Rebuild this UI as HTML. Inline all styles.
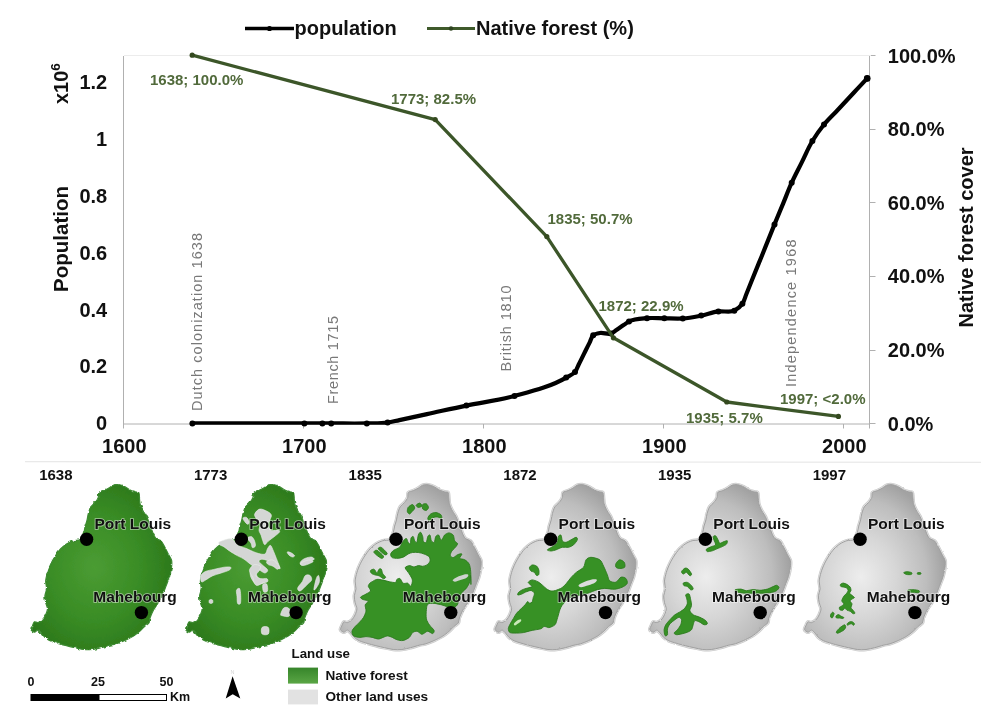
<!DOCTYPE html>
<html><head><meta charset="utf-8"><title>Mauritius population and native forest</title>
<style>
html,body{margin:0;padding:0;background:#fff;}
body{width:1001px;height:722px;overflow:hidden;font-family:"Liberation Sans",sans-serif;}
svg{display:block}
text{font-family:"Liberation Sans",sans-serif;}
.b{font-weight:bold;fill:#111;}
.t20{font-size:20px;}
.dl{font-weight:bold;font-size:15px;fill:#516a3b;}
.an{font-size:14.5px;fill:#787878;}
.yl{font-weight:bold;font-size:15px;fill:#111;}
.city{font-weight:bold;font-size:15.5px;fill:#111;}
</style></head><body>
<svg width="1001" height="722" viewBox="0 0 1001 722">
<rect width="1001" height="722" fill="#fff"/>

<g stroke="#b0b0b0" stroke-width="1" fill="none">
<path d="M123.5 56V424H870"/>
<path d="M869.5 55.5V428.5"/>
<path d="M869.5 423.5H875.5"/>
<path d="M869.5 350.5H875.5"/>
<path d="M869.5 276.5H875.5"/>
<path d="M869.5 202.5H875.5"/>
<path d="M869.5 129.5H875.5"/>
<path d="M869.5 55.5H875.5"/>
<path d="M123.5 424V428.5"/>
<path d="M303.5 424V428.5"/>
<path d="M483.5 424V428.5"/>
<path d="M663.5 424V428.5"/>
<path d="M843.5 424V428.5"/>
</g>
<path d="M124 55.5H871" stroke="#ececec" stroke-width="1"/>
<path d="M25 461.6L981 462.4" stroke="#e9e9e9" stroke-width="1.2"/>
<text class="b t20" x="107.2" y="430.2" text-anchor="end">0</text>
<text class="b t20" x="107.2" y="373.4" text-anchor="end">0.2</text>
<text class="b t20" x="107.2" y="316.6" text-anchor="end">0.4</text>
<text class="b t20" x="107.2" y="259.8" text-anchor="end">0.6</text>
<text class="b t20" x="107.2" y="203.0" text-anchor="end">0.8</text>
<text class="b t20" x="107.2" y="146.2" text-anchor="end">1</text>
<text class="b t20" x="107.2" y="89.4" text-anchor="end">1.2</text>
<text class="b t20" x="887.8" y="430.6">0.0%</text>
<text class="b t20" x="887.8" y="357.0">20.0%</text>
<text class="b t20" x="887.8" y="283.4">40.0%</text>
<text class="b t20" x="887.8" y="209.8">60.0%</text>
<text class="b t20" x="887.8" y="136.2">80.0%</text>
<text class="b t20" x="887.8" y="62.6">100.0%</text>
<text class="b t20" x="124.3" y="453" text-anchor="middle">1600</text>
<text class="b t20" x="304.3" y="453" text-anchor="middle">1700</text>
<text class="b t20" x="484.3" y="453" text-anchor="middle">1800</text>
<text class="b t20" x="664.3" y="453" text-anchor="middle">1900</text>
<text class="b t20" x="844.3" y="453" text-anchor="middle">2000</text>
<text class="b t20" transform="translate(67.5,239) rotate(-90)" text-anchor="middle" style="font-size:20.5px">Population</text>
<text class="b t20" transform="translate(67.8,104) rotate(-90)">x10<tspan font-size="13.5" dy="-8">6</tspan></text>
<text class="b t20" transform="translate(973,237.5) rotate(-90)" text-anchor="middle">Native forest cover</text>
<path d="M245 28.5H294" stroke="#000" stroke-width="3.5"/><circle cx="269.5" cy="28.5" r="2.6" fill="#000"/>
<text class="b t20" x="294.5" y="35">population</text>
<path d="M427 28.5H475" stroke="#3f5a2b" stroke-width="3"/><circle cx="451" cy="28.5" r="2.2" fill="#2f4420"/>
<text class="b t20" x="476" y="35">Native forest (%)</text>
<text class="an" transform="translate(201.5,411.0) rotate(-90)" textLength="178.0" lengthAdjust="spacing">Dutch colonization 1638</text>
<text class="an" transform="translate(337.5,404.0) rotate(-90)" textLength="88.0" lengthAdjust="spacing">French 1715</text>
<text class="an" transform="translate(510.5,371.5) rotate(-90)" textLength="86.0" lengthAdjust="spacing">British 1810</text>
<text class="an" transform="translate(795.6,387.0) rotate(-90)" textLength="147.5" lengthAdjust="spacing">Independence 1968</text>
<clipPath id="pc"><rect x="100" y="40" width="800" height="384.8"/></clipPath>
<path d="M192.4 423.4 C229.7 423.4 267.1 423.4 304.4 423.4 C310.4 423.4 316.4 423.4 322.4 423.4 C325.3 423.4 328.3 423.4 331.2 423.4 C343.1 423.4 354.9 423.7 366.8 423.4 C373.7 423.2 380.8 423.6 387.6 422.6 C391.6 422.0 395.5 420.9 399.4 420.1 C408.6 418.1 417.8 416.1 427.0 414.1 C440.1 411.3 453.2 408.3 466.4 405.6 C482.4 402.3 498.8 400.3 514.5 396.0 C532.1 391.2 550.5 386.8 566.2 377.6 C569.2 375.8 572.8 374.6 575.0 372.0 C576.7 370.0 577.4 367.1 578.6 364.7 C580.5 361.0 582.3 357.3 584.1 353.6 C585.9 350.0 587.7 346.3 589.6 342.6 C590.8 340.2 591.3 336.9 593.2 335.3 C594.9 333.9 597.7 333.4 600.0 333.0 C603.6 332.4 607.7 334.8 611.0 333.6 C612.9 332.9 614.6 331.2 616.4 330.0 C618.8 328.4 621.2 326.7 623.6 325.1 C625.4 323.9 627.1 322.5 629.0 321.5 C634.3 318.7 640.9 318.7 647.0 318.2 C652.7 317.7 658.5 318.3 664.3 318.3 C670.5 318.4 676.7 318.9 682.8 318.5 C689.0 318.1 695.1 316.8 701.2 315.6 C707.0 314.4 712.6 312.2 718.4 311.4 C723.6 310.7 729.8 312.9 734.3 310.7 C737.3 309.3 740.4 306.6 742.4 303.8 C744.3 301.1 745.0 297.4 746.3 294.3 C748.2 289.5 750.1 284.7 752.0 280.0 C755.2 272.0 758.4 264.1 761.7 256.2 C765.9 245.6 770.2 235.0 774.5 224.4 C777.3 217.4 780.2 210.5 783.1 203.6 C786.0 196.6 788.6 189.5 791.7 182.7 C794.9 175.6 798.6 168.8 802.0 161.8 C805.5 154.9 808.4 147.6 812.4 141.0 C815.9 135.3 819.8 129.7 824.0 124.5 C828.0 119.6 832.6 115.3 837.0 110.7 C842.7 104.5 848.5 98.4 854.2 92.2 C858.6 87.6 862.9 83.0 867.2 78.4" fill="none" stroke="#000" stroke-width="4.2" stroke-linejoin="round" stroke-linecap="round" clip-path="url(#pc)"/>
<circle cx="192.4" cy="423.4" r="3" fill="#000"/>
<circle cx="304.4" cy="423.4" r="3" fill="#000"/>
<circle cx="322.4" cy="423.4" r="3" fill="#000"/>
<circle cx="331.2" cy="423.4" r="3" fill="#000"/>
<circle cx="366.8" cy="423.4" r="3" fill="#000"/>
<circle cx="387.6" cy="422.6" r="3" fill="#000"/>
<circle cx="466.4" cy="405.6" r="3" fill="#000"/>
<circle cx="514.5" cy="396.0" r="3" fill="#000"/>
<circle cx="566.2" cy="377.6" r="3" fill="#000"/>
<circle cx="575.0" cy="372.0" r="3" fill="#000"/>
<circle cx="593.2" cy="335.3" r="3" fill="#000"/>
<circle cx="611.0" cy="333.6" r="3" fill="#000"/>
<circle cx="629.0" cy="321.5" r="3" fill="#000"/>
<circle cx="647.0" cy="318.2" r="3" fill="#000"/>
<circle cx="664.3" cy="318.3" r="3" fill="#000"/>
<circle cx="682.8" cy="318.5" r="3" fill="#000"/>
<circle cx="701.2" cy="315.6" r="3" fill="#000"/>
<circle cx="718.4" cy="311.4" r="3" fill="#000"/>
<circle cx="734.3" cy="310.7" r="3" fill="#000"/>
<circle cx="742.4" cy="303.8" r="3" fill="#000"/>
<circle cx="774.5" cy="224.4" r="3" fill="#000"/>
<circle cx="791.7" cy="182.7" r="3" fill="#000"/>
<circle cx="812.4" cy="141.0" r="3" fill="#000"/>
<circle cx="824.0" cy="124.5" r="3" fill="#000"/>
<circle cx="867.2" cy="78.4" r="3" fill="#000"/>
<circle cx="867.2" cy="78.4" r="3.3" fill="#000"/>
<path d="M192.2 55.2 L435.2 119.6 L546.8 236.6 L613.4 337.8 L726.8 402.0 L838.4 416.4" fill="none" stroke="#3c5629" stroke-width="3.3" stroke-linejoin="round" stroke-linecap="round"/>
<circle cx="192.2" cy="55.2" r="2.6" fill="#34491f"/>
<circle cx="435.2" cy="119.6" r="2.6" fill="#34491f"/>
<circle cx="546.8" cy="236.6" r="2.6" fill="#34491f"/>
<circle cx="613.4" cy="337.8" r="2.6" fill="#34491f"/>
<circle cx="726.8" cy="402.0" r="2.6" fill="#34491f"/>
<circle cx="838.4" cy="416.4" r="2.6" fill="#34491f"/>
<text class="dl" x="150.0" y="85.3">1638; 100.0%</text>
<text class="dl" x="391.0" y="103.8">1773; 82.5%</text>
<text class="dl" x="547.5" y="224.3">1835; 50.7%</text>
<text class="dl" x="598.5" y="311.3">1872; 22.9%</text>
<text class="dl" x="686.0" y="423.1">1935; 5.7%</text>
<text class="dl" x="780.0" y="404.3">1997; &lt;2.0%</text>
<defs>
<path id="isl" d="M118.8 484.7C120.5 484.9 123.5 486.1 125.1 486.9C126.7 487.7 128.7 489.3 130.1 490.0C131.5 490.7 133.8 491.4 135.0 491.8C136.2 492.2 138.2 491.7 138.8 492.5C139.4 493.3 139.2 495.8 139.4 497.4C139.6 499.0 139.6 501.9 140.0 503.7C140.4 505.5 141.7 508.3 142.5 509.9C143.3 511.5 144.9 513.7 145.6 514.9C146.3 516.1 146.8 516.9 147.5 518.6C148.2 520.3 149.6 524.2 150.5 526.5C151.4 528.8 152.9 533.1 153.7 534.8C154.5 536.5 155.1 537.7 156.2 538.6C157.3 539.5 160.0 539.9 161.2 541.1C162.4 542.3 163.8 545.3 164.9 547.3C166.0 549.3 167.7 552.9 168.7 554.8C169.7 556.7 171.2 558.7 171.6 560.5C172.0 562.3 171.8 565.2 171.5 567.5C171.2 569.8 170.2 574.3 169.6 576.5C169.0 578.7 167.8 581.3 167.1 583.2C166.4 585.1 165.3 588.0 164.6 589.8C163.9 591.6 162.9 594.1 162.0 596.0C161.1 597.9 159.2 601.0 158.0 603.0C156.8 605.0 154.6 607.9 153.5 610.0C152.4 612.1 150.7 616.1 150.0 618.0C149.3 619.9 149.7 621.8 148.9 623.0C148.1 624.2 146.0 625.1 144.7 626.3C143.4 627.5 141.4 629.9 139.7 631.3C138.0 632.7 135.2 635.0 133.1 636.3C131.0 637.6 127.2 639.4 124.8 640.5C122.4 641.6 118.6 643.1 116.5 643.8C114.4 644.5 112.0 644.6 109.8 645.2C107.6 645.8 103.7 647.1 101.2 647.7C98.7 648.3 95.0 649.2 92.5 649.5C90.0 649.8 86.3 649.8 83.8 649.5C81.3 649.2 77.7 648.2 75.2 647.7C72.7 647.2 69.0 646.3 66.5 645.7C64.0 645.1 60.2 644.1 57.9 643.4C55.6 642.7 52.0 641.7 50.1 640.8C48.2 639.9 46.1 638.5 44.9 637.4C43.7 636.3 42.4 634.0 41.4 633.0C40.4 632.0 39.0 630.2 38.0 630.1C37.0 630.0 35.5 632.3 34.5 632.2C33.5 632.1 31.2 630.6 31.0 629.6C30.8 628.6 32.3 626.0 32.8 624.9C33.3 623.8 33.8 622.1 34.5 621.8C35.2 621.5 36.9 622.9 38.0 622.6C39.1 622.3 41.2 621.1 42.3 620.0C43.4 618.9 45.0 616.4 45.7 614.8C46.4 613.2 47.5 610.5 47.5 608.8C47.5 607.1 46.1 604.6 45.7 602.7C45.3 600.8 44.8 597.8 44.9 595.8C45.0 593.8 46.5 591.0 46.6 588.9C46.7 586.8 45.6 583.5 45.7 581.1C45.8 578.7 46.8 574.9 47.5 572.4C48.2 569.9 49.8 566.1 50.9 563.8C52.0 561.5 53.9 558.1 55.3 556.0C56.7 553.9 58.9 550.7 60.5 549.0C62.1 547.3 64.7 545.1 66.5 543.9C68.3 542.7 71.4 541.3 73.4 540.7C75.4 540.1 78.9 540.7 80.4 539.5C81.9 538.3 83.2 534.2 83.9 532.3C84.6 530.4 84.7 527.9 85.2 526.1C85.7 524.3 86.7 521.7 87.1 519.9C87.5 518.1 87.8 515.5 88.3 513.6C88.8 511.7 89.8 508.4 90.8 506.8C91.8 505.2 94.1 503.7 95.2 502.4C96.3 501.1 97.8 498.8 98.3 497.4C98.8 496.0 98.1 493.5 98.9 492.5C99.7 491.5 102.5 491.2 103.9 490.6C105.3 490.0 107.6 488.9 108.9 488.1C110.2 487.3 111.8 485.7 113.2 485.2C114.6 484.7 117.1 484.5 118.8 484.7Z"/>
<radialGradient id="gg" cx="0.40" cy="0.56" r="0.6"><stop offset="0" stop-color="#ededed"/><stop offset="0.42" stop-color="#d6d6d6"/><stop offset="0.78" stop-color="#bdbdbd"/><stop offset="1" stop-color="#a2a2a2"/></radialGradient>
<radialGradient id="gr" cx="0.45" cy="0.5" r="0.6"><stop offset="0" stop-color="#4b9c33"/><stop offset="0.55" stop-color="#398c25"/><stop offset="1" stop-color="#2a751a"/></radialGradient>
<linearGradient id="sw" x1="0" y1="0" x2="0" y2="1"><stop offset="0" stop-color="#36852a"/><stop offset="1" stop-color="#5aa645"/></linearGradient>
<filter id="rough" x="-5%" y="-5%" width="110%" height="110%"><feTurbulence type="fractalNoise" baseFrequency="0.22" numOctaves="2" seed="4" result="n"/><feDisplacementMap in="SourceGraphic" in2="n" scale="3.2" xChannelSelector="R" yChannelSelector="G"/></filter>
<filter id="rough2" x="-5%" y="-5%" width="110%" height="110%"><feTurbulence type="fractalNoise" baseFrequency="0.3" numOctaves="2" seed="7" result="n"/><feDisplacementMap in="SourceGraphic" in2="n" scale="1.8" xChannelSelector="R" yChannelSelector="G"/></filter>
</defs>
<g transform="translate(0.0,0)">
<text class="yl" x="39.2" y="480.2">1638</text>
<use href="#isl" fill="url(#gr)" stroke="#3c8a30" stroke-width="1.2" filter="url(#rough)"/>
<circle cx="86.6" cy="539.3" r="6.7" fill="#000"/>
<circle cx="141.4" cy="612.6" r="6.7" fill="#000"/>
<text class="city" x="94.5" y="528.6" stroke="#fff" stroke-opacity="0.55" stroke-width="1.6" paint-order="stroke">Port Louis</text>
<text class="city" x="93.3" y="601.6" stroke="#fff" stroke-opacity="0.55" stroke-width="1.6" paint-order="stroke">Mahebourg</text>
</g>
<g transform="translate(154.7,0)">
<text class="yl" x="39.2" y="480.2">1773</text>
<use href="#isl" fill="url(#gr)" stroke="#3c8a30" stroke-width="1.2" filter="url(#rough)"/>
<g fill="#d4d6d4" stroke="#e9ece9" stroke-width="0.6">
<path d="M99.9 514.2C100.4 512.5 102.9 509.6 105.0 509.1C107.0 508.6 110.3 510.3 112.3 511.3C114.2 512.2 116.1 513.4 116.6 514.9C117.1 516.3 115.8 518.3 115.2 520.0C114.6 521.7 112.7 523.4 113.0 525.1C113.2 526.8 114.8 529.3 116.6 530.2C118.4 531.0 122.6 529.8 123.9 530.2C125.2 530.5 125.3 531.2 124.6 532.3C123.9 533.4 121.3 535.2 119.5 536.7C117.7 538.1 115.3 539.7 113.7 541.1C112.1 542.4 111.0 544.8 110.1 544.7C109.1 544.6 108.5 541.9 107.9 540.3C107.3 538.8 107.0 536.9 106.4 535.2C105.8 533.5 104.4 532.1 104.3 530.2C104.1 528.2 106.1 525.4 105.7 523.6C105.4 521.8 103.1 520.8 102.1 519.2C101.1 517.7 99.4 515.9 99.9 514.2Z"/>
<path d="M88.3 518.1C88.5 517.3 90.9 516.9 91.9 517.5C92.9 518.1 94.1 520.3 94.4 521.4C94.6 522.6 94.0 524.2 93.4 524.3C92.7 524.5 91.3 523.2 90.5 522.2C89.6 521.1 88.0 518.9 88.3 518.1Z"/>
<path d="M65.0 541.8C67.0 540.8 73.5 538.3 76.6 538.9C79.8 539.5 81.5 543.8 83.9 545.4C86.3 547.0 88.3 547.1 91.2 548.3C94.1 549.5 98.2 551.7 101.4 552.7C104.5 553.7 108.1 554.9 110.1 554.1C112.0 553.4 112.0 549.8 113.0 548.3C114.0 546.9 114.9 544.9 115.9 545.4C116.9 545.9 117.8 549.1 118.8 551.2C119.8 553.4 120.7 556.1 121.7 558.5C122.7 560.9 124.0 564.1 124.6 565.8C125.2 567.5 125.9 568.4 125.3 568.7C124.7 568.9 122.3 568.1 121.0 567.2C119.6 566.4 118.7 564.7 117.3 563.6C116.0 562.5 114.7 561.4 113.0 560.7C111.3 560.0 108.6 559.1 107.2 559.2C105.7 559.3 104.0 560.3 104.3 561.4C104.5 562.5 107.2 564.3 108.6 565.8C110.1 567.2 112.7 568.9 113.0 570.1C113.2 571.3 111.5 573.0 110.1 573.0C108.6 573.0 105.7 570.1 104.3 570.1C102.8 570.1 101.4 571.6 101.4 573.0C101.4 574.5 102.8 577.6 104.3 578.9C105.7 580.1 109.4 579.6 110.1 580.3C110.8 581.0 110.1 582.6 108.6 583.2C107.2 583.8 103.3 584.7 101.4 583.9C99.4 583.2 98.0 580.7 97.0 578.9C96.0 577.0 95.3 575.0 95.5 573.0C95.8 571.1 98.7 568.9 98.4 567.2C98.2 565.5 95.8 564.3 94.1 562.9C92.4 561.4 90.2 559.7 88.3 558.5C86.3 557.3 84.6 556.8 82.5 555.6C80.3 554.4 77.4 552.7 75.2 551.2C73.0 549.8 71.1 548.0 69.4 546.9C67.7 545.8 65.7 545.5 65.0 544.7C64.3 543.8 63.1 542.8 65.0 541.8Z"/>
<path d="M92.6 538.1C92.8 537.1 95.8 536.2 97.0 536.7C98.2 537.2 99.3 539.5 99.9 541.1C100.5 542.6 101.0 545.1 100.6 546.1C100.3 547.2 98.4 548.1 97.7 547.6C97.0 547.1 97.1 544.8 96.3 543.2C95.4 541.7 92.5 539.2 92.6 538.1Z"/>
<path d="M46.1 575.9C46.7 574.2 48.3 572.7 50.5 571.6C52.7 570.5 56.0 570.1 59.2 569.4C62.3 568.7 66.6 567.6 69.4 567.2C72.2 566.9 75.1 566.7 75.9 567.2C76.8 567.7 76.0 569.2 74.5 570.1C72.9 571.1 69.3 572.1 66.5 573.0C63.7 574.0 60.4 574.7 57.7 575.9C55.1 577.2 52.3 579.3 50.5 580.3C48.7 581.3 47.6 582.5 46.8 581.8C46.1 581.0 45.5 577.6 46.1 575.9Z"/>
<path d="M132.6 552.0C133.0 551.6 135.0 552.1 136.2 552.7C137.5 553.3 139.6 554.9 139.9 555.6C140.1 556.3 138.7 557.2 137.7 557.0C136.7 556.9 134.9 555.7 134.1 554.9C133.2 554.0 132.2 552.3 132.6 552.0Z"/>
<path d="M145.7 562.1C146.3 561.0 148.2 559.3 150.1 558.5C151.9 557.7 155.0 556.9 156.6 557.0C158.2 557.2 159.7 558.5 159.5 559.2C159.3 560.0 156.7 560.6 155.1 561.4C153.6 562.3 151.5 563.7 150.1 564.3C148.6 564.9 147.1 565.4 146.4 565.0C145.7 564.7 145.1 563.2 145.7 562.1Z"/>
<path d="M95.0 569.3C95.6 567.7 97.8 565.2 99.6 564.6C101.4 564.1 105.0 565.2 105.8 566.2C106.6 567.2 105.0 569.3 104.3 570.8C103.5 572.4 100.9 574.2 101.2 575.5C101.4 576.8 104.0 578.1 105.8 578.6C107.6 579.1 110.9 578.1 112.0 578.6C113.2 579.1 113.6 580.9 112.8 581.7C112.0 582.5 109.0 582.6 107.4 583.2C105.7 583.9 104.0 585.5 102.7 585.5C101.4 585.5 100.4 584.6 99.6 583.2C98.9 581.8 98.7 578.6 98.1 577.0C97.4 575.5 96.3 575.2 95.8 573.9C95.2 572.6 94.3 570.8 95.0 569.3Z"/>
<path d="M108.1 584.8C108.7 583.5 111.2 583.0 112.0 584.0C112.8 585.0 113.3 589.7 112.8 591.0C112.3 592.3 109.7 592.8 108.9 591.7C108.1 590.7 107.6 586.1 108.1 584.8Z"/>
<path d="M112.0 561.5C112.8 560.8 116.1 559.2 118.2 560.0C120.3 560.8 123.6 564.6 124.4 566.2C125.2 567.7 123.9 569.3 122.9 569.3C121.8 569.3 119.8 567.0 118.2 566.2C116.7 565.4 114.6 565.4 113.6 564.6C112.5 563.9 111.2 562.3 112.0 561.5Z"/>
<path d="M143.0 587.9C143.5 586.3 146.3 583.7 147.6 581.7C148.9 579.6 149.4 576.5 150.7 575.5C152.0 574.5 154.3 574.7 155.4 575.5C156.4 576.3 157.4 578.6 156.9 580.1C156.4 581.7 153.8 583.2 152.3 584.8C150.7 586.3 148.9 588.4 147.6 589.4C146.3 590.5 145.3 591.2 144.5 591.0C143.8 590.7 142.5 589.4 143.0 587.9Z"/>
<path d="M146.1 563.1C147.1 562.2 151.8 560.3 153.8 560.0C155.9 559.7 158.7 560.8 158.5 561.5C158.2 562.3 154.1 564.0 152.3 564.6C150.5 565.3 148.7 565.7 147.6 565.4C146.6 565.2 145.0 564.0 146.1 563.1Z"/>
<path d="M161.6 578.6C162.3 576.3 163.4 575.0 163.9 575.5C164.4 576.0 165.0 579.6 164.7 581.7C164.3 583.7 162.5 586.6 161.6 587.9C160.7 589.2 159.2 591.0 159.2 589.4C159.2 587.9 160.8 580.9 161.6 578.6Z"/>
<path d="M126.0 614.2C126.2 612.9 127.8 609.0 129.0 608.0C130.3 607.0 132.5 607.2 133.7 608.0C134.9 608.8 136.0 611.2 136.0 612.6C136.0 614.1 135.1 616.0 133.7 616.5C132.3 617.0 128.8 616.1 127.5 615.7C126.2 615.4 125.7 615.5 126.0 614.2Z"/>
<path d="M81.8 590.2C82.3 588.9 84.2 587.7 84.9 588.6C85.6 589.5 85.9 593.2 86.0 595.6C86.1 598.1 86.2 602.1 85.7 603.4C85.2 604.6 83.5 604.5 82.9 603.4C82.3 602.2 82.5 598.6 82.3 596.4C82.1 594.2 81.4 591.5 81.8 590.2Z"/>
<path d="M54.7 600.0C55.2 599.4 57.3 599.4 57.8 600.0C58.3 600.5 58.3 602.5 57.8 603.0C57.3 603.6 55.2 603.6 54.7 603.0C54.2 602.5 54.2 600.5 54.7 600.0Z"/>
<path d="M107.4 627.4C108.4 626.2 112.5 626.2 113.6 627.4C114.6 628.5 114.6 632.9 113.6 634.0C112.5 635.1 108.4 635.1 107.4 634.0C106.3 632.9 106.3 628.5 107.4 627.4Z"/>
</g>
<circle cx="86.6" cy="539.3" r="6.7" fill="#000"/>
<circle cx="141.4" cy="612.6" r="6.7" fill="#000"/>
<text class="city" x="94.5" y="528.6" stroke="#fff" stroke-opacity="0.55" stroke-width="1.6" paint-order="stroke">Port Louis</text>
<text class="city" x="93.3" y="601.6" stroke="#fff" stroke-opacity="0.55" stroke-width="1.6" paint-order="stroke">Mahebourg</text>
</g>
<g transform="translate(309.4,0)">
<text class="yl" x="39.2" y="480.2">1835</text>
<g filter="url(#rough2)"><use href="#isl" fill="none" stroke="#c9c9c9" stroke-width="3.6"/><use href="#isl" fill="none" stroke="#e0e0e0" stroke-width="2.4"/><use href="#isl" fill="url(#gg)" stroke="#a0a0a0" stroke-width="1"/></g>
<g fill="#379125" stroke="#2b7b1d" stroke-width="0.9">
<path d="M92.2 543.8C92.9 542.6 94.4 540.2 95.1 539.4C95.8 538.7 96.8 538.3 97.3 538.7C97.8 539.1 98.2 541.6 98.7 542.3C99.3 543.1 100.5 544.4 100.9 543.8C101.3 543.2 101.2 539.0 101.7 538.0C102.1 536.9 103.3 536.1 103.8 536.5C104.4 536.9 104.8 540.0 105.3 540.9C105.8 541.7 107.0 543.2 107.5 542.3C108.0 541.5 108.4 536.5 108.9 535.1C109.4 533.6 110.5 531.9 111.1 532.2C111.7 532.4 112.9 535.2 113.3 536.5C113.7 537.9 113.5 540.8 114.0 541.6C114.5 542.4 116.3 543.1 116.9 542.3C117.5 541.6 117.9 537.6 118.4 536.5C118.9 535.5 120.0 534.4 120.6 535.1C121.1 535.7 121.4 539.8 122.0 540.9C122.6 541.9 124.3 543.0 124.9 542.3C125.5 541.7 125.7 537.6 126.4 536.5C127.0 535.5 128.5 534.5 129.3 535.1C130.0 535.6 130.8 539.7 131.5 540.2C132.1 540.6 133.1 538.7 133.6 538.0C134.2 537.2 134.3 535.8 135.1 535.1C135.9 534.3 138.2 532.9 139.5 532.9C140.7 532.9 143.0 533.9 143.8 535.1C144.6 536.2 144.6 539.6 145.3 540.9C145.9 542.1 148.2 542.7 148.2 543.8C148.2 544.8 146.1 547.1 145.3 548.1C144.4 549.2 143.0 550.0 142.4 551.1C141.7 552.1 140.7 554.5 140.9 555.4C141.1 556.4 142.8 557.7 143.8 557.6C144.9 557.5 146.9 555.2 148.2 554.7C149.4 554.2 152.2 553.4 152.5 554.0C152.8 554.5 149.9 557.5 150.4 558.3C150.8 559.2 154.1 558.9 155.4 559.8C156.8 560.6 159.0 562.5 159.8 564.1C160.6 565.8 161.0 568.5 161.3 571.4C161.5 574.3 161.6 583.9 161.5 584.5C161.5 585.1 161.3 575.9 161.1 575.5C160.9 575.1 160.9 579.9 160.3 581.7C159.8 583.4 158.3 586.3 157.2 587.9C156.1 589.4 153.7 591.0 152.6 592.5C151.5 594.1 150.1 596.9 149.5 598.7C148.8 600.5 148.8 603.6 147.9 604.9C147.0 606.2 144.8 607.8 143.3 608.0C141.7 608.2 138.6 606.9 137.1 606.5C135.5 606.0 134.2 605.3 132.4 604.9C130.7 604.5 126.7 603.5 124.7 603.4C122.7 603.2 119.6 603.2 118.5 604.1C117.4 605.0 117.2 607.4 117.0 609.6C116.7 611.7 116.5 616.6 117.0 618.8C117.4 621.1 119.0 623.4 120.1 625.0C121.2 626.7 124.3 629.2 124.7 630.5C125.1 631.7 124.0 633.4 123.2 633.6C122.3 633.7 119.6 631.3 118.5 631.2C117.4 631.1 116.3 632.3 115.4 632.8C114.5 633.2 113.4 634.5 112.3 634.3C111.2 634.1 109.0 631.5 107.7 631.2C106.3 631.0 104.1 631.9 103.0 632.8C101.9 633.7 101.3 636.3 99.9 637.4C98.6 638.5 95.5 640.2 93.7 640.5C92.0 640.9 89.1 640.2 87.5 639.7C86.0 639.3 84.2 638.0 82.9 637.4C81.6 636.9 79.6 635.9 78.2 635.9C76.9 635.9 74.9 637.0 73.6 637.4C72.3 637.9 70.5 639.0 69.0 639.0C67.4 639.0 64.5 637.8 62.8 637.4C61.0 637.1 58.3 636.6 56.6 636.6C54.8 636.6 52.1 637.5 50.4 637.4C48.6 637.3 45.3 636.8 44.2 635.9C43.1 635.0 42.4 632.6 42.6 631.2C42.9 629.9 44.6 627.9 45.7 626.6C46.8 625.3 49.2 623.3 50.4 621.9C51.6 620.6 53.4 618.8 54.2 617.3C55.1 615.7 56.3 612.9 56.6 611.1C56.8 609.3 55.5 606.3 55.8 604.9C56.1 603.5 59.2 601.8 58.9 601.0C58.6 600.3 54.6 600.0 53.5 599.5C52.4 598.9 50.7 597.9 51.1 597.2C51.6 596.4 55.1 595.0 56.6 594.1C58.0 593.2 60.9 592.1 61.2 591.0C61.5 589.9 59.0 587.4 58.9 586.3C58.8 585.2 59.9 583.9 60.4 583.2C61.0 582.6 61.8 582.2 62.8 581.7C63.8 581.1 65.9 579.6 67.4 579.4C69.0 579.1 71.8 579.8 73.6 580.1C75.4 580.5 78.0 581.3 79.8 581.7C81.6 582.0 84.9 582.8 86.0 582.5C87.1 582.1 86.9 579.9 87.5 579.4C88.2 578.8 89.8 578.0 90.6 578.6C91.5 579.1 92.6 582.6 93.7 583.2C94.8 583.9 97.3 582.8 98.4 583.2C99.5 583.7 100.8 586.8 101.5 586.3C102.1 585.9 103.2 581.9 103.0 580.1C102.8 578.4 101.0 575.7 99.9 573.9C98.9 572.2 95.8 569.0 95.8 567.8C95.9 566.6 99.0 565.7 100.2 565.6C101.4 565.5 103.3 567.0 104.6 567.0C105.8 567.0 107.7 565.7 108.9 565.6C110.2 565.5 112.0 566.4 113.3 566.3C114.5 566.2 116.6 565.6 117.6 564.9C118.7 564.1 120.2 562.4 120.6 561.2C120.9 560.1 120.7 557.9 119.8 556.9C119.0 555.8 116.3 554.6 114.7 554.0C113.2 553.3 110.6 552.7 108.9 552.5C107.3 552.3 104.6 552.3 103.1 552.5C101.7 552.7 100.0 553.3 98.7 554.0C97.5 554.6 95.8 556.2 94.4 556.9C92.9 557.5 90.2 558.2 88.6 558.3C86.9 558.4 83.8 558.2 82.8 557.6C81.7 557.0 81.1 555.0 81.3 554.0C81.5 552.9 83.0 551.3 84.2 550.3C85.5 549.4 88.9 548.4 90.0 547.4C91.2 546.5 91.5 544.9 92.2 543.8Z"/>
<path d="M98.0 511.8C97.8 510.9 98.0 508.5 98.7 507.4C99.5 506.4 102.2 504.4 103.1 504.5C104.0 504.6 105.4 507.1 105.3 508.2C105.2 509.2 103.1 511.0 102.4 511.8C101.7 512.6 100.8 514.0 100.2 514.0C99.6 514.0 98.2 512.7 98.0 511.8Z"/>
<path d="M106.7 505.3C107.0 504.6 109.5 503.0 110.4 503.1C111.2 503.2 112.8 505.4 112.6 506.0C112.4 506.6 109.8 507.5 108.9 507.4C108.1 507.3 106.5 505.9 106.7 505.3Z"/>
<path d="M113.3 504.5C113.8 503.8 116.1 503.4 116.9 503.8C117.7 504.2 119.1 506.5 119.1 507.4C119.1 508.4 117.7 510.1 116.9 510.4C116.1 510.6 113.8 509.7 113.3 508.9C112.8 508.1 112.8 505.3 113.3 504.5Z"/>
<path d="M118.4 518.3C118.5 517.3 120.1 514.8 121.3 514.0C122.4 513.2 124.9 512.4 126.4 512.5C127.8 512.6 130.6 513.9 131.5 514.7C132.3 515.5 132.7 518.0 132.2 518.3C131.7 518.7 129.1 517.0 127.8 516.9C126.6 516.8 124.5 517.0 123.5 517.6C122.4 518.2 121.3 521.2 120.6 521.3C119.8 521.4 118.3 519.4 118.4 518.3Z"/>
<path d="M64.6 552.5C64.0 551.4 66.1 549.8 67.5 550.3C68.8 550.8 73.4 555.0 74.0 556.1C74.7 557.3 73.2 558.8 71.9 558.3C70.5 557.8 65.2 553.7 64.6 552.5Z"/>
<path d="M68.9 548.9C68.4 547.8 70.6 546.8 71.9 547.4C73.1 548.0 77.2 552.2 77.7 553.2C78.2 554.3 76.7 555.3 75.5 554.7C74.2 554.1 69.5 549.9 68.9 548.9Z"/>
<path d="M61.0 570.7C61.3 570.1 63.7 568.9 64.6 569.2C65.5 569.5 66.8 572.9 67.5 572.9C68.2 572.9 69.1 569.7 69.7 569.2C70.3 568.7 71.3 568.6 71.9 569.2C72.4 569.8 72.7 572.4 73.3 573.6C73.9 574.7 76.1 576.5 76.2 577.2C76.3 577.9 75.0 578.9 74.0 578.7C73.1 578.5 70.8 576.3 69.7 575.8C68.5 575.2 67.1 575.4 66.0 575.0C65.0 574.7 63.1 574.2 62.4 573.6C61.7 573.0 60.6 571.3 61.0 570.7Z"/>
</g>
<path d="M143.3 580.1C143.7 579.4 146.1 577.9 147.9 577.0C149.7 576.1 152.3 575.1 154.1 574.7C155.9 574.3 158.3 574.2 158.8 574.7C159.3 575.2 158.5 576.9 157.2 577.8C155.9 578.7 153.0 579.5 151.0 580.1C149.1 580.8 146.9 581.7 145.6 581.7C144.3 581.7 142.9 580.9 143.3 580.1Z" fill="#cfd3cf"/>
<circle cx="86.6" cy="539.3" r="6.7" fill="#000"/>
<circle cx="141.4" cy="612.6" r="6.7" fill="#000"/>
<text class="city" x="94.5" y="528.6" stroke="#fff" stroke-opacity="0.55" stroke-width="1.6" paint-order="stroke">Port Louis</text>
<text class="city" x="93.3" y="601.6" stroke="#fff" stroke-opacity="0.55" stroke-width="1.6" paint-order="stroke">Mahebourg</text>
</g>
<g transform="translate(464.1,0)">
<text class="yl" x="39.2" y="480.2">1872</text>
<g filter="url(#rough2)"><use href="#isl" fill="none" stroke="#c9c9c9" stroke-width="3.6"/><use href="#isl" fill="none" stroke="#e0e0e0" stroke-width="2.4"/><use href="#isl" fill="url(#gg)" stroke="#a0a0a0" stroke-width="1"/></g>
<g fill="#379125" stroke="#2b7b1d" stroke-width="0.9">
<path d="M64.2 582.2C64.5 581.5 66.7 580.0 68.0 579.9C69.4 579.9 72.1 580.9 73.6 581.6C75.0 582.3 76.7 583.9 78.0 584.9C79.3 586.0 81.2 587.9 82.4 588.8C83.7 589.7 85.6 590.8 86.9 591.0C88.1 591.3 89.7 590.9 91.3 590.5C92.9 590.0 96.4 588.7 97.9 587.7C99.5 586.7 101.1 584.7 102.4 583.3C103.6 581.8 105.4 579.3 106.8 577.7C108.2 576.1 110.5 573.7 112.4 572.2C114.2 570.7 118.1 569.0 119.5 567.2C120.8 565.5 120.9 561.2 122.0 559.8C123.0 558.3 125.0 557.3 126.9 557.3C128.9 557.3 133.9 558.5 135.7 559.8C137.5 561.0 138.3 563.8 139.4 566.0C140.5 568.1 142.3 572.6 143.2 574.7C144.0 576.8 144.4 579.9 145.6 580.9C146.9 582.0 150.3 582.7 151.9 582.2C153.5 581.7 155.4 577.7 156.9 577.2C158.3 576.7 161.0 577.6 161.8 578.5C162.7 579.3 163.6 582.2 163.1 583.4C162.6 584.7 159.9 586.4 158.1 587.2C156.3 588.0 153.1 589.0 150.6 589.2C148.1 589.4 143.2 588.4 140.7 588.4C138.2 588.5 135.7 589.0 133.2 589.7C130.7 590.4 126.1 592.5 123.2 593.4C120.4 594.3 115.7 595.3 113.2 595.9C110.7 596.5 107.4 596.9 105.8 597.6C104.1 598.4 102.9 599.9 101.8 601.0C100.7 602.1 98.8 604.2 97.9 605.4C97.1 606.7 96.4 608.1 95.7 609.9C95.1 611.6 94.2 615.6 93.5 617.6C92.9 619.7 92.1 623.0 91.3 624.3C90.5 625.5 88.9 626.0 88.0 626.5C87.0 627.0 85.8 627.6 84.7 627.6C83.5 627.6 81.3 626.3 80.2 626.5C79.1 626.6 78.2 628.2 76.9 628.7C75.6 629.2 72.9 629.5 71.4 629.8C69.8 630.1 67.6 630.5 65.8 630.9C64.1 631.3 61.1 632.3 59.2 632.6C57.3 632.9 54.4 633.1 52.5 633.1C50.6 633.1 47.1 633.2 45.9 632.6C44.7 631.9 44.2 629.9 44.2 628.7C44.2 627.5 45.2 625.7 45.9 624.3C46.6 622.8 48.2 620.3 49.2 618.7C50.1 617.1 51.4 614.6 52.5 613.2C53.6 611.8 55.7 610.0 57.0 608.8C58.2 607.5 60.4 605.4 61.4 604.3C62.3 603.3 63.0 601.7 63.6 601.6C64.2 601.4 64.6 603.1 65.3 603.2C65.9 603.3 67.5 602.9 68.0 602.1C68.6 601.3 68.8 598.9 69.1 597.7C69.5 596.4 70.6 594.3 70.2 593.2C69.9 592.2 68.2 590.6 66.9 590.5C65.7 590.3 62.8 591.6 61.4 592.1C60.0 592.7 58.1 594.0 57.0 594.3C55.8 594.7 53.9 595.2 53.6 594.9C53.3 594.6 53.9 592.9 54.7 592.1C55.5 591.3 57.7 590.0 59.2 589.4C60.6 588.7 63.4 588.1 64.7 587.7C66.0 587.3 67.9 587.1 68.0 586.6C68.2 586.1 66.4 585.0 65.8 584.4C65.3 583.7 63.8 582.8 64.2 582.2Z"/>
<path d="M65.3 567.8C65.4 566.9 67.0 565.2 68.0 565.0C69.1 564.7 71.5 565.4 72.5 566.1C73.4 566.8 74.4 568.8 74.7 570.0C75.0 571.2 75.0 573.6 74.7 574.4C74.4 575.2 73.1 575.8 72.5 575.5C71.8 575.2 71.0 572.8 70.2 572.2C69.5 571.6 67.6 571.7 66.9 571.1C66.2 570.4 65.1 568.6 65.3 567.8Z"/>
<path d="M83.3 549.8C83.7 549.1 88.1 547.1 89.5 546.0C91.0 545.0 92.6 543.7 93.3 542.3C94.0 540.9 94.0 537.1 94.5 536.1C95.1 535.1 96.5 534.6 97.0 535.3C97.6 536.0 97.6 540.1 98.3 541.1C99.0 542.1 100.8 542.5 102.0 542.3C103.3 542.1 105.6 540.5 107.0 539.8C108.4 539.1 111.1 537.3 112.0 537.3C112.9 537.3 113.6 538.7 113.2 539.8C112.9 540.9 110.7 543.7 109.5 544.8C108.2 545.9 106.1 546.9 104.5 547.3C102.9 547.6 100.1 546.9 98.3 547.3C96.5 547.6 93.6 549.2 92.0 549.8C90.4 550.3 88.3 551.0 87.1 551.0C85.8 551.0 83.0 550.5 83.3 549.8Z"/>
<path d="M151.9 563.5C152.4 562.4 154.4 559.9 155.6 559.8C156.8 559.6 159.4 561.2 160.1 562.2C160.8 563.3 161.2 566.3 160.6 567.2C160.0 568.1 156.9 568.5 155.6 568.5C154.4 568.5 152.4 567.9 151.9 567.2C151.3 566.5 151.3 564.6 151.9 563.5Z"/>
</g>
<path d="M114.5 585.2C114.9 584.4 117.4 583.1 119.5 582.2C121.5 581.3 124.7 580.1 126.9 579.7C129.1 579.3 132.1 579.2 132.7 579.7C133.3 580.2 132.1 581.8 130.7 582.7C129.3 583.6 126.7 584.4 124.5 585.2C122.2 585.9 118.6 587.2 117.0 587.2C115.3 587.2 114.1 586.0 114.5 585.2Z" fill="#dcdcdc"/>
<path d="M49.8 623.7C50.0 623.0 51.4 621.7 52.5 620.9C53.6 620.2 55.7 619.3 56.4 619.3C57.1 619.3 57.4 620.2 57.0 620.9C56.5 621.7 54.6 623.0 53.6 623.7C52.6 624.5 51.5 625.4 50.9 625.4C50.2 625.4 49.5 624.5 49.8 623.7Z" fill="#c9e8b8"/>
<circle cx="86.6" cy="539.3" r="6.7" fill="#000"/>
<circle cx="141.4" cy="612.6" r="6.7" fill="#000"/>
<text class="city" x="94.5" y="528.6" stroke="#fff" stroke-opacity="0.55" stroke-width="1.6" paint-order="stroke">Port Louis</text>
<text class="city" x="93.3" y="601.6" stroke="#fff" stroke-opacity="0.55" stroke-width="1.6" paint-order="stroke">Mahebourg</text>
</g>
<g transform="translate(618.8,0)">
<text class="yl" x="39.2" y="480.2">1935</text>
<g filter="url(#rough2)"><use href="#isl" fill="none" stroke="#c9c9c9" stroke-width="3.6"/><use href="#isl" fill="none" stroke="#e0e0e0" stroke-width="2.4"/><use href="#isl" fill="url(#gg)" stroke="#a0a0a0" stroke-width="1"/></g>
<g fill="#379125" stroke="#2b7b1d" stroke-width="0.9">
<path d="M87.7 549.1C88.3 548.4 91.4 547.2 92.7 546.6C94.0 546.0 96.5 545.9 96.8 545.0C97.2 544.0 95.5 541.2 95.2 540.0C94.8 538.8 94.1 537.2 94.4 536.6C94.6 536.1 96.1 535.3 96.8 535.8C97.6 536.3 98.7 538.9 99.3 540.0C99.9 541.0 100.2 543.1 101.0 543.3C101.8 543.5 104.1 542.0 105.2 541.6C106.2 541.3 108.1 540.4 108.5 540.8C108.8 541.2 108.4 543.3 107.7 544.1C106.9 545.0 104.7 546.0 103.5 546.6C102.3 547.2 100.8 547.7 99.3 548.3C97.9 548.9 95.1 550.3 93.5 550.8C92.0 551.2 89.4 551.8 88.5 551.6C87.7 551.4 87.1 549.8 87.7 549.1Z"/>
<path d="M62.8 571.5C63.0 570.7 65.2 568.6 66.1 568.2C67.1 567.9 68.5 568.2 69.4 569.1C70.4 569.9 72.5 573.1 72.7 574.0C73.0 575.0 71.8 575.9 71.1 575.7C70.4 575.5 68.7 572.6 67.8 572.4C66.8 572.1 65.2 574.2 64.4 574.0C63.7 573.9 62.5 572.4 62.8 571.5Z"/>
<path d="M64.4 583.2C64.9 582.7 67.4 582.0 68.6 582.4C69.8 582.7 71.9 584.7 72.7 585.7C73.6 586.6 74.5 588.4 74.4 589.0C74.3 589.6 72.7 590.2 71.9 589.8C71.1 589.5 69.5 587.1 68.6 586.5C67.6 585.9 65.9 586.2 65.3 585.7C64.7 585.2 64.0 583.7 64.4 583.2Z"/>
<path d="M66.9 594.8C67.3 594.2 69.5 593.3 70.3 594.0C71.0 594.7 71.6 598.1 71.9 599.8C72.3 601.5 72.9 604.1 72.7 605.6C72.6 607.2 70.8 609.3 71.1 610.6C71.3 611.9 73.0 613.8 74.4 614.8C75.8 615.7 79.3 616.4 81.1 617.3C82.8 618.1 85.8 619.6 86.9 620.6C87.9 621.5 88.8 623.3 88.5 623.9C88.3 624.5 86.3 625.0 85.2 624.7C84.1 624.5 82.4 622.8 81.1 622.2C79.8 621.6 77.0 620.2 76.1 620.6C75.1 620.9 74.9 623.4 74.4 624.7C73.9 626.0 73.6 628.6 72.7 629.7C71.9 630.8 70.0 631.6 68.6 632.2C67.2 632.8 64.3 633.5 62.8 633.9C61.2 634.2 58.9 634.8 57.8 634.7C56.7 634.6 55.2 633.8 55.3 633.0C55.4 632.3 57.7 630.9 58.6 629.7C59.6 628.5 61.4 626.2 61.9 624.7C62.5 623.3 63.0 620.8 62.8 619.7C62.5 618.7 61.2 617.3 60.3 617.3C59.3 617.3 57.4 618.8 56.1 619.7C54.8 620.7 52.2 622.6 51.1 623.9C50.1 625.2 49.0 627.3 48.7 628.9C48.3 630.4 49.0 633.8 48.7 634.7C48.3 635.7 46.6 636.2 46.2 635.5C45.7 634.8 45.2 631.3 45.3 629.7C45.4 628.2 46.2 626.2 47.0 624.7C47.8 623.3 49.8 621.2 51.1 619.7C52.4 618.3 54.6 615.9 56.1 614.8C57.7 613.6 60.5 612.4 61.9 611.4C63.4 610.5 65.2 609.3 66.1 608.1C67.1 606.9 68.4 604.6 68.6 603.1C68.8 601.7 68.0 599.3 67.8 598.1C67.5 597.0 66.6 595.4 66.9 594.8Z"/>
<path d="M116.2 589.9C116.5 589.4 120.3 589.0 122.0 589.1C123.7 589.2 126.0 590.7 127.8 590.7C129.6 590.8 132.6 589.5 134.5 589.5C136.4 589.4 139.1 590.4 141.1 590.3C143.1 590.3 146.7 589.6 148.6 589.1C150.5 588.5 153.1 587.1 154.4 586.6C155.7 586.0 156.9 585.2 157.7 585.3C158.5 585.5 160.2 586.6 160.2 587.4C160.2 588.2 158.8 590.0 157.7 590.7C156.6 591.4 154.6 592.0 152.7 592.4C150.8 592.7 146.8 593.1 144.4 593.2C142.0 593.3 138.5 593.2 136.1 593.2C133.7 593.2 130.2 593.3 127.8 593.2C125.4 593.1 121.2 592.9 119.5 592.4C117.8 591.9 115.8 590.4 116.2 589.9Z"/>
</g>
<circle cx="86.6" cy="539.3" r="6.7" fill="#000"/>
<circle cx="141.4" cy="612.6" r="6.7" fill="#000"/>
<text class="city" x="94.5" y="528.6" stroke="#fff" stroke-opacity="0.55" stroke-width="1.6" paint-order="stroke">Port Louis</text>
<text class="city" x="93.3" y="601.6" stroke="#fff" stroke-opacity="0.55" stroke-width="1.6" paint-order="stroke">Mahebourg</text>
</g>
<g transform="translate(773.5,0)">
<text class="yl" x="39.2" y="480.2">1997</text>
<g filter="url(#rough2)"><use href="#isl" fill="none" stroke="#c9c9c9" stroke-width="3.6"/><use href="#isl" fill="none" stroke="#e0e0e0" stroke-width="2.4"/><use href="#isl" fill="url(#gg)" stroke="#a0a0a0" stroke-width="1"/></g>
<g fill="#379125" stroke="#2b7b1d" stroke-width="0.9">
<path d="M66.9 584.5C67.2 584.1 68.8 583.1 69.8 583.1C70.7 583.1 72.7 584.0 73.7 584.5C74.6 585.1 76.0 586.1 76.6 587.0C77.1 587.8 77.6 589.5 77.5 590.4C77.5 591.3 75.9 592.5 76.1 593.3C76.3 594.0 78.3 595.1 79.0 595.7C79.7 596.3 81.0 597.2 80.9 597.6C80.9 598.1 79.1 598.6 78.5 599.1C77.9 599.6 76.6 600.3 76.6 601.0C76.6 601.7 78.4 603.0 78.5 603.9C78.6 604.9 77.3 606.9 77.5 607.8C77.7 608.8 79.4 610.0 80.0 610.7C80.5 611.5 81.5 612.7 81.4 613.2C81.3 613.6 80.2 613.9 79.5 613.6C78.8 613.4 77.4 611.7 76.6 611.2C75.7 610.7 74.4 610.7 73.7 610.3C72.9 609.8 71.9 608.3 71.2 608.3C70.6 608.3 70.0 610.0 69.3 610.3C68.6 610.5 66.9 610.2 66.4 609.8C65.9 609.4 65.6 607.9 65.9 607.3C66.2 606.8 67.7 606.4 68.3 605.9C68.9 605.4 70.3 604.6 70.3 603.9C70.3 603.3 68.5 601.9 68.3 601.0C68.2 600.2 68.9 598.9 69.3 598.1C69.6 597.4 70.2 596.4 70.7 595.7C71.3 595.0 72.6 594.0 73.2 593.3C73.7 592.5 74.6 591.1 74.6 590.4C74.6 589.6 73.9 588.4 73.2 587.9C72.5 587.5 70.6 587.2 69.8 587.0C68.9 586.8 67.8 586.8 67.4 586.5C66.9 586.1 66.5 585.0 66.9 584.5Z"/>
<path d="M57.2 614.6C57.4 613.9 58.6 612.3 59.1 612.2C59.6 612.1 60.5 613.0 60.6 613.6C60.6 614.3 59.9 615.9 59.6 616.6C59.3 617.2 59.0 617.9 58.6 618.0C58.3 618.1 57.4 617.5 57.2 617.0C57.0 616.6 56.9 615.3 57.2 614.6Z"/>
<path d="M62.5 616.1C62.8 615.6 64.2 614.6 64.9 614.6C65.6 614.6 66.6 615.7 67.4 616.1C68.1 616.5 70.0 617.2 70.3 617.5C70.5 617.9 69.9 618.4 69.3 618.5C68.7 618.6 66.8 618.1 65.9 618.0C65.0 617.9 63.5 618.3 63.0 618.0C62.5 617.7 62.2 616.6 62.5 616.1Z"/>
<path d="M63.0 631.6C63.3 631.0 64.7 629.4 65.4 628.7C66.2 627.9 67.5 626.8 68.3 626.3C69.2 625.7 70.7 624.7 71.2 624.8C71.8 624.9 72.3 626.5 72.2 627.2C72.1 627.9 71.4 629.0 70.7 629.7C70.1 630.3 68.7 631.1 67.8 631.6C67.0 632.1 65.6 632.8 64.9 633.0C64.3 633.3 63.5 633.3 63.2 633.0C62.9 632.8 62.7 632.2 63.0 631.6Z"/>
<path d="M73.7 623.8C73.9 623.3 75.3 622.2 76.1 621.9C76.8 621.6 78.3 621.6 79.0 621.9C79.7 622.2 80.8 623.3 80.9 623.8C81.1 624.3 80.4 625.3 80.0 625.3C79.5 625.3 78.6 624.0 78.0 623.8C77.4 623.7 76.2 624.1 75.6 624.3C75.0 624.5 74.4 625.4 74.1 625.3C73.9 625.2 73.4 624.3 73.7 623.8Z"/>
<path d="M130.2 572.7C130.3 572.3 132.5 571.7 133.7 571.7C134.8 571.7 137.6 572.3 138.2 572.7C138.7 573.1 138.4 574.2 137.7 574.5C137.0 574.7 134.2 574.7 133.2 574.5C132.1 574.2 130.1 573.1 130.2 572.7Z"/>
<path d="M144.1 572.7C144.6 572.5 146.7 572.5 147.1 572.7C147.6 572.9 147.6 574.0 147.1 574.2C146.7 574.4 144.6 574.4 144.1 574.2C143.7 574.0 143.7 572.9 144.1 572.7Z"/>
<path d="M134.4 590.2C135.1 589.8 137.8 589.6 139.4 589.7C141.0 589.7 144.8 590.2 145.6 590.7C146.5 591.1 146.0 592.4 145.1 592.7C144.3 592.9 140.9 592.2 139.4 592.2C138.0 592.1 135.6 592.4 134.9 592.2C134.2 591.9 133.8 590.5 134.4 590.2Z"/>
</g>
<circle cx="86.6" cy="539.3" r="6.7" fill="#000"/>
<circle cx="141.4" cy="612.6" r="6.7" fill="#000"/>
<text class="city" x="94.5" y="528.6" stroke="#fff" stroke-opacity="0.55" stroke-width="1.6" paint-order="stroke">Port Louis</text>
<text class="city" x="93.3" y="601.6" stroke="#fff" stroke-opacity="0.55" stroke-width="1.6" paint-order="stroke">Mahebourg</text>
</g>
<g class="b" font-size="12.5" text-anchor="middle"><text class="b" x="31" y="686">0</text><text class="b" x="98" y="686">25</text><text class="b" x="166.4" y="686">50</text></g>
<rect x="31" y="694.5" width="68" height="6" fill="#000" stroke="#000" stroke-width="1"/>
<rect x="99" y="694.5" width="67.5" height="6" fill="#fff" stroke="#000" stroke-width="1"/>
<text class="b" font-size="12.5" x="170" y="700.5">Km</text>
<path d="M232.6 676.2L240.3 698.4L232.7 694.2L225.7 698.6Z" fill="#000"/>
<text x="232.6" y="674" font-size="5.5" text-anchor="middle" fill="#d4d4d4">N</text>
<text class="b" font-size="13.3" x="291.6" y="658.4">Land use</text>
<rect x="288" y="667.6" width="30" height="16" fill="url(#sw)"/>
<text class="b" font-size="13.6" x="325.4" y="679.6">Native forest</text>
<rect x="288" y="689.6" width="30" height="14.8" fill="#e2e2e2"/>
<text class="b" font-size="13.6" x="325.4" y="701.2">Other land uses</text>
</svg></body></html>
